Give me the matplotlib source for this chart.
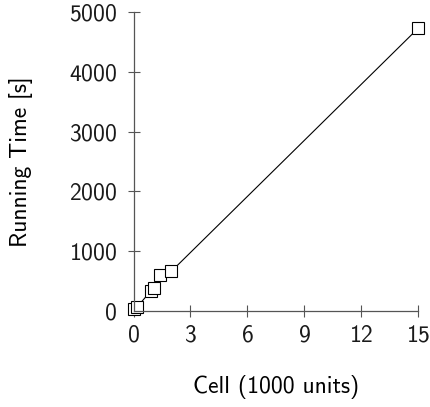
import matplotlib
matplotlib.use('Agg')
import matplotlib.pyplot as plt

# cell count (in 1000 units) vs running time in seconds
cells = [0.0, 0.2, 0.9, 1.1, 1.4, 2.0, 15.0]
running_time = [30, 70, 330, 380, 610, 665, 4725]

x_ticks = [0, 3, 6, 9, 12, 15]
y_ticks = [0, 1000, 2000, 3000, 4000, 5000]

plt.rcParams['font.family'] = ['cmss10', 'DejaVu Sans']
plt.rcParams['axes.formatter.use_mathtext'] = True
plt.rcParams['font.size'] = 17
plt.rcParams['text.color'] = '#1a1a1a'
plt.rcParams['xtick.color'] = '#555555'
plt.rcParams['ytick.color'] = '#555555'
plt.rcParams['xtick.labelcolor'] = '#1a1a1a'
plt.rcParams['ytick.labelcolor'] = '#1a1a1a'

fig = plt.figure(figsize=(4.3, 4.07), dpi=100)
ax = fig.add_axes([133.5 / 430, 1 - 311 / 407, (418 - 133.5) / 430, (311 - 12) / 407])

ax.plot(cells, running_time, color='black', linewidth=0.8,
        marker='s', markersize=8, markerfacecolor='white',
        markeredgecolor='black', markeredgewidth=0.8, clip_on=False)

ax.set_xlim(0, 15)
ax.set_ylim(0, 5000)
ax.set_xticks(x_ticks)
ax.set_yticks(y_ticks)

ax.spines['top'].set_visible(False)
ax.spines['right'].set_visible(False)
for side in ['left', 'bottom']:
    ax.spines[side].set_linewidth(0.9)
    ax.spines[side].set_color('#555555')

ax.tick_params(axis='x', direction='inout', length=8, width=0.8, pad=6)
ax.tick_params(axis='y', direction='inout', length=8, width=0.8, pad=8)

ax.set_xlabel('Cell (1000 units)')
ax.set_ylabel('Running Time [s]')
ax.xaxis.set_label_coords(0.5, -0.215)
ax.yaxis.set_label_coords(-0.355, 0.5)

fig.savefig('out.png', dpi=100)
